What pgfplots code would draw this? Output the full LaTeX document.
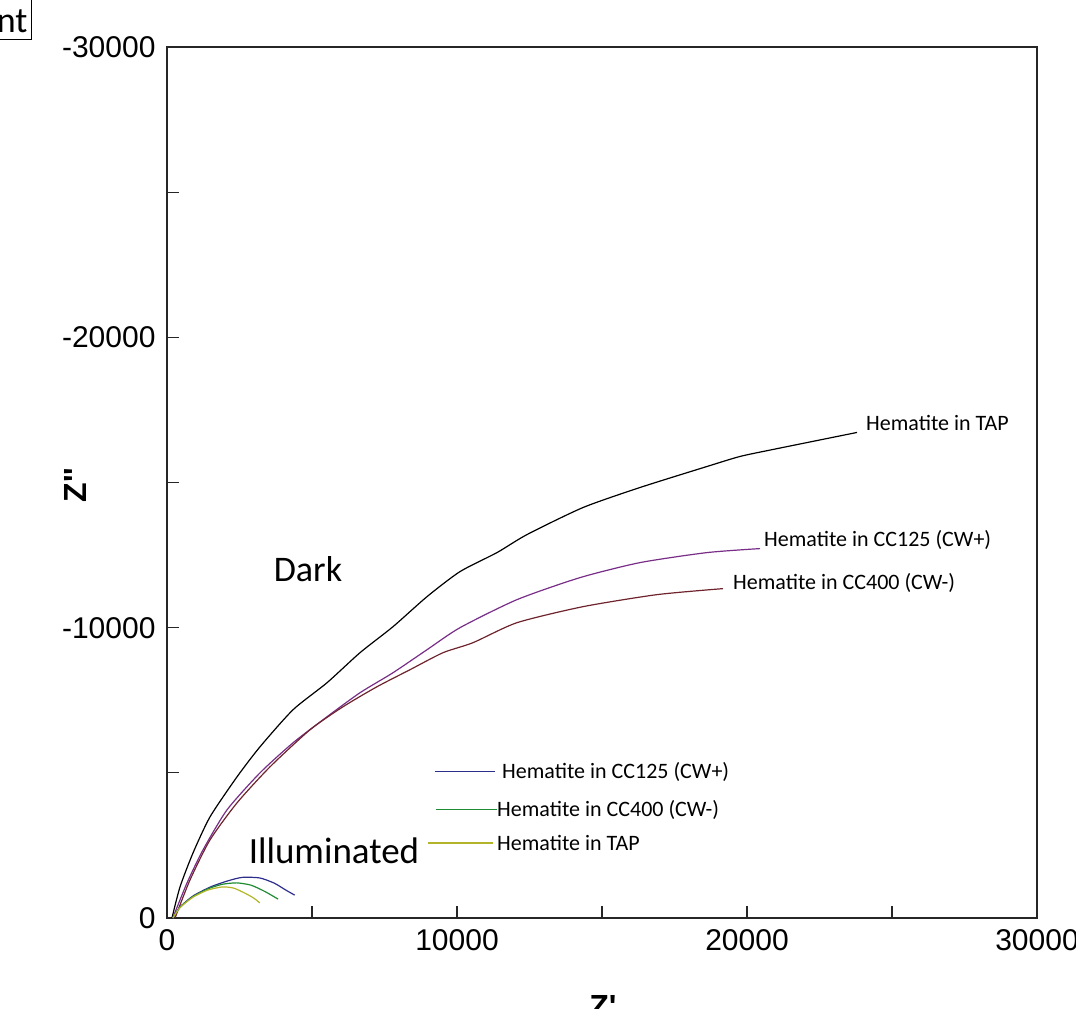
\documentclass[border=0pt]{standalone}
\usepackage{pgfplots}
\pgfplotsset{compat=1.18}
\usepackage{fontspec}
\setmainfont{Carlito}
\newfontfamily\arial{Liberation Sans}[Ligatures=TeXOff]
\definecolor{dkpur}{RGB}{120,45,135}
\definecolor{dkbrn}{RGB}{110,35,45}
\definecolor{ilnavy}{RGB}{45,45,140}
\definecolor{ilgrn}{RGB}{30,140,50}
\definecolor{ilyel}{RGB}{180,180,40}
\begin{document}
\begin{tikzpicture}[x=1pt,y=1pt]
\path[use as bounding box] (0,0) rectangle (1076,1009);
\begin{axis}[
  at={(167pt,91pt)}, anchor=south west,
  scale only axis, width=870pt, height=871pt,
  xmin=0, xmax=30000, ymin=-30000, ymax=0,
  y dir=reverse,
  scaled ticks=false,
  xtick={0,10000,20000,30000},
  xticklabels={0,10000,20000,30000},
  minor xtick={5000,15000,25000},
  ytick={-30000,-20000,-10000,0},
  yticklabels={-30000,-20000,-10000,0},
  minor ytick={-25000,-15000,-5000},
  tick align=inside, xtick pos=bottom, ytick pos=left,
  major tick length=12pt, minor tick length=12pt,
  every tick/.style={black!85, line width=1.2pt},
  axis line style={black!85, line width=1.6pt},
  ticklabel style={font=\fontsize{30}{34}\selectfont\arial},
  yticklabel style={xshift=-8pt},
  xticklabel style={yshift=-8pt},
  clip=false,
  every axis plot/.style={line width=1.2pt, mark=none},
]
% Dark: Hematite in TAP
\addplot[black, smooth, tension=0.4] coordinates {
(172,0) (448,-1069) (897,-2241) (1483,-3483) (2414,-4862) (3207,-5897)
(4345,-7172) (5517,-8103) (6655,-9138) (7793,-10034) (8966,-11069)
(10103,-11931) (11379,-12586) (12414,-13207) (14345,-14138) (16310,-14828)
(18621,-15552) (19759,-15897) (20897,-16138) (23793,-16724)};
% Dark: Hematite in CC125 (CW+)
\addplot[dkpur, smooth, tension=0.4] coordinates {
(200,0) (690,-1207) (1241,-2345) (2069,-3724) (3207,-5000) (4345,-6034)
(5517,-6931) (6655,-7759) (7793,-8448) (8966,-9241) (10103,-10000)
(12069,-10966) (14241,-11724) (16310,-12241) (18621,-12586) (20448,-12724)};
% Dark: Hematite in CC400 (CW-)
\addplot[dkbrn, smooth, tension=0.4] coordinates {
(276,0) (793,-1310) (1483,-2690) (2414,-3966) (3552,-5207) (4931,-6483)
(6069,-7276) (7241,-7966) (8379,-8552) (9517,-9138) (10552,-9483)
(12069,-10172) (14345,-10724) (16897,-11138) (19172,-11345)};
% Illuminated
\addplot[ilnavy, smooth, tension=0.4] coordinates {
(200,0) (450,-380) (900,-760) (1500,-1070) (2100,-1280) (2600,-1400)
(3200,-1380) (3700,-1200) (4100,-960) (4400,-790)};
\addplot[ilgrn, smooth, tension=0.4] coordinates {
(200,0) (450,-370) (900,-740) (1400,-1000) (1900,-1160) (2400,-1210)
(2900,-1130) (3400,-900) (3830,-650)};
\addplot[ilyel, smooth, tension=0.4] coordinates {
(200,0) (450,-360) (900,-720) (1400,-960) (1900,-1070) (2300,-1030)
(2700,-850) (3000,-680) (3200,-520)};
% legend lines
\addplot[ilnavy] coordinates {(9241,-5034) (11310,-5034)};
\addplot[ilgrn] coordinates {(9276,-3724) (11379,-3724)};
\addplot[ilyel] coordinates {(9000,-2586) (11241,-2586)};
% annotations
\node[font=\fontsize{36}{40}\selectfont] at (axis cs:4862,-12000) {Dark};
\node[font=\fontsize{37}{40}\selectfont] at (axis cs:5759,-2310) {Illuminated};
\node[anchor=west, inner sep=0pt, font=\fontsize{22}{26}\selectfont] at (axis cs:24103,-17034) {Hematite in TAP};
\node[anchor=west, inner sep=0pt, font=\fontsize{22}{26}\selectfont] at (axis cs:20586,-13034) {Hematite in CC125 (CW+)};
\node[anchor=west, inner sep=0pt, font=\fontsize{22}{26}\selectfont] at (axis cs:19517,-11552) {Hematite in CC400 (CW-)};
\node[anchor=west, inner sep=0pt, font=\fontsize{22}{26}\selectfont] at (axis cs:11552,-5034) {Hematite in CC125 (CW+)};
\node[anchor=west, inner sep=0pt, font=\fontsize{22}{26}\selectfont] at (axis cs:11379,-3724) {Hematite in CC400 (CW-)};
\node[anchor=west, inner sep=0pt, font=\fontsize{22}{26}\selectfont] at (axis cs:11379,-2586) {Hematite in TAP};
\end{axis}
% axis titles
\node[rotate=90, font=\fontsize{32}{36}\selectfont\bfseries\arial] at (75,524) {Z''};
\node[anchor=north, inner sep=0pt, font=\fontsize{32}{36}\selectfont\bfseries\arial] at (603,14) {Z'};
% cropped boxed label at top left
\node[draw, line width=1pt, anchor=south east, inner xsep=4pt, inner ysep=7pt, text height=30pt, text depth=0pt, font=\fontsize{36}{40}\selectfont] at (32,969) {nt};
\end{tikzpicture}
\end{document}
